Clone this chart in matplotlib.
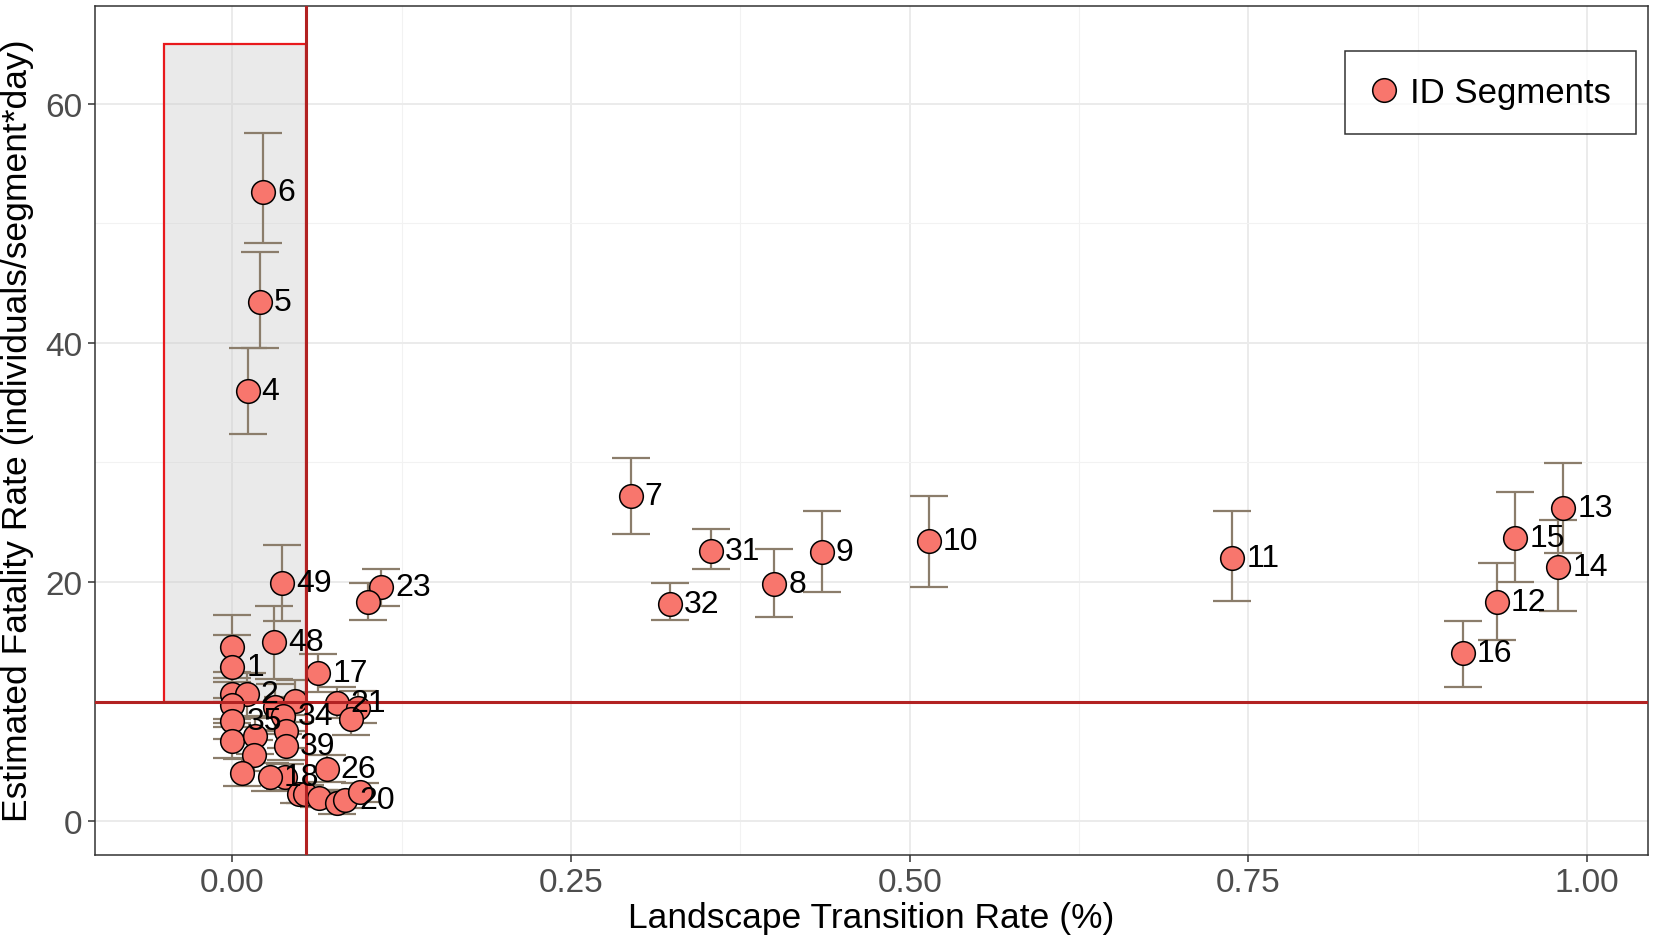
import matplotlib
matplotlib.use("Agg")
import matplotlib.pyplot as plt
from matplotlib.patches import Rectangle
from matplotlib.lines import Line2D
import numpy as np

plt.rcParams['font.family'] = ['Liberation Sans', 'DejaVu Sans']

# ---- data ----
labels = ["6", "5", "4", "7", "31", "32", "8", "9", "10", "11", "13", "15", "14", "12", "16",
          "49", "48", "", "1", "17", "23", "", "", "2", "", "35", "", "", "", "", "", "18",
          "", "", "34", "", "39", "21", "", "", "26", "", "", "", "", "20", ""]
x_rate = [0.0229, 0.0205, 0.0113, 0.294, 0.353, 0.323, 0.400, 0.435, 0.514, 0.738, 0.9825, 0.9469, 0.9784, 0.9333, 0.908,
          0.0369, 0.031, 0.0, 0.0, 0.0635, 0.110, 0.0999, 0.0, 0.0106, 0.0, 0.0, 0.0, 0.0168, 0.0163, 0.0069, 0.0389, 0.0278,
          0.0315, 0.0463, 0.0376, 0.0396, 0.0396, 0.077, 0.093, 0.088, 0.0697, 0.049, 0.054, 0.0642, 0.077, 0.083, 0.094]
y_fatal = [52.66, 43.4, 35.96, 27.2, 22.6, 18.2, 19.8, 22.5, 23.4, 22.0, 26.17, 23.66, 21.28, 18.3, 14.03,
           19.9, 14.95, 14.6, 12.9, 12.4, 19.55, 18.35, 10.6, 10.6, 9.7, 8.4, 6.7, 7.1, 5.5, 4.0, 3.7, 3.7,
           9.55, 10.05, 8.8, 7.5, 6.3, 9.9, 9.5, 8.5, 4.4, 2.25, 2.25, 1.9, 1.5, 1.8, 2.4]
y_low = [48.37, 39.6, 32.4, 24.0, 21.1, 16.8, 17.1, 19.2, 19.6, 18.4, 22.4, 19.97, 17.55, 15.17, 11.19,
         16.7, 11.9, 12.0, 10.3, 10.8, 18.0, 16.8, 8.5, 8.8, 7.9, 6.9, 5.3, 5.6, 4.2, 2.9, 2.6, 2.5,
         7.6, 8.3, 7.3, 6.1, 5.1, 8.6, 8.2, 7.2, 3.3, 1.5, 1.5, 1.2, 0.6, 1.1, 1.6]
y_high = [57.55, 47.6, 39.6, 30.4, 24.4, 19.95, 22.8, 25.9, 27.2, 25.9, 29.96, 27.56, 25.19, 21.56, 16.76,
          23.1, 18.0, 17.2, 15.6, 14.0, 21.1, 19.9, 12.5, 12.4, 11.6, 10.0, 8.2, 8.6, 6.8, 5.2, 4.8, 4.9,
          11.5, 11.8, 10.4, 8.9, 7.5, 11.2, 10.9, 9.8, 5.5, 3.0, 3.0, 2.6, 2.4, 2.6, 3.2]

x_ticks = [0.00, 0.25, 0.50, 0.75, 1.00]
x_tick_labels = ["0.00", "0.25", "0.50", "0.75", "1.00"]
y_ticks = [0, 20, 40, 60]

rect_x = (-0.05, 0.0544)
rect_y = (10, 65)
h_thresh = 10
v_thresh = 0.0544

# ---- figure ----
fig = plt.figure(figsize=(16.54, 9.45), dpi=100)
ax = fig.add_axes([0.0574, 0.0946, 0.9390, 0.8983])

ax.set_xlim(-0.1013, 1.0449)
ax.set_ylim(-2.8, 68.2)

ax.set_xticks(x_ticks)
ax.set_xticklabels(x_tick_labels)
ax.set_yticks(y_ticks)
ax.set_xticks([0.125, 0.375, 0.625, 0.875], minor=True)
ax.set_yticks([10, 30, 50], minor=True)

ax.grid(which='major', color='#EBEBEB', linewidth=1.4, zorder=0)
ax.grid(which='minor', color='#F2F2F2', linewidth=0.8, zorder=0)
ax.set_axisbelow(True)

for s in ax.spines.values():
    s.set_color('#333333')
    s.set_linewidth(1.1)

ax.tick_params(which='major', direction='out', length=5, width=1.1, color='#333333',
               labelsize=24, labelcolor='#4D4D4D', pad=4)
ax.tick_params(which='minor', length=0)

# shaded rectangle
ax.add_patch(Rectangle((rect_x[0], rect_y[0]), rect_x[1] - rect_x[0], rect_y[1] - rect_y[0],
                       facecolor='#CCCCCC', alpha=0.4, edgecolor='none', zorder=1))
ax.add_patch(Rectangle((rect_x[0], rect_y[0]), rect_x[1] - rect_x[0], rect_y[1] - rect_y[0],
                       facecolor='none', edgecolor='#E8191C', linewidth=1.6, zorder=1.1))

# error bars
ax.errorbar(x_rate, y_fatal,
            yerr=[np.array(y_fatal) - np.array(y_low), np.array(y_high) - np.array(y_fatal)],
            fmt='none', ecolor='#8B7D6B', elinewidth=1.6, capsize=14, capthick=1.6, zorder=2)

# points
ax.scatter(x_rate, y_fatal, s=290, c='#F8766D', edgecolors='black', linewidths=1.1, zorder=3)

# threshold lines
ax.axhline(h_thresh, color='#B22222', linewidth=2.2, zorder=4)
ax.axvline(v_thresh, color='#B22222', linewidth=2.2, zorder=4)

# labels
for xv, yv, lab in zip(x_rate, y_fatal, labels):
    if lab:
        ax.text(xv + 0.0105, yv, lab, fontsize=23, color='black', ha='left', va='center', zorder=5)

ax.set_xlabel("Landscape Transition Rate (%)", fontsize=25.5, color='black', labelpad=2)
ax.set_ylabel("Estimated Fatality Rate (individuals/segment*day)", fontsize=25.5, color='black', labelpad=8)

handle = Line2D([], [], linestyle='none', marker='o', markersize=17, markerfacecolor='#F8766D',
                markeredgecolor='black', markeredgewidth=1.1)
leg = ax.legend([handle], ["ID Segments"], loc='upper right', bbox_to_anchor=(0.9923, 0.9465),
                borderaxespad=0, fontsize=25, frameon=True, fancybox=False, handletextpad=0.35,
                borderpad=0.72, handlelength=0.8)
leg.get_frame().set_edgecolor('black')
leg.get_frame().set_linewidth(1.1)

fig.savefig("out.png", dpi=100)
